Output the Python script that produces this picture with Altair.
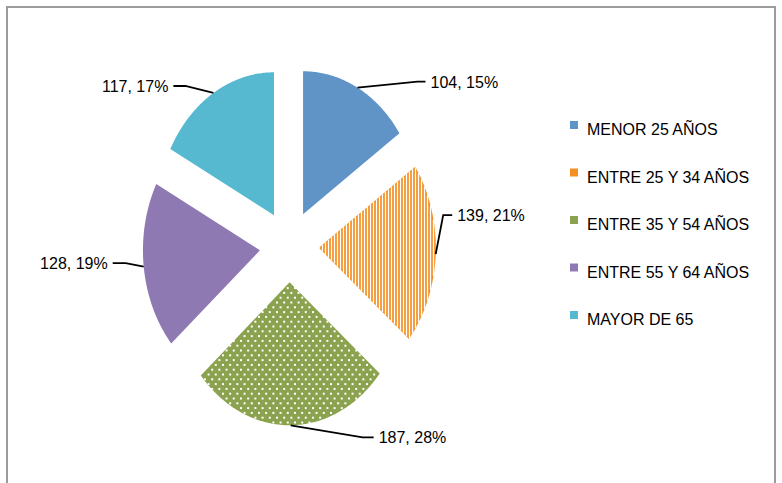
import numpy as np
import pandas as pd
import altair as alt

# ---------------- data ----------------
categories = ["MENOR 25 AÑOS", "ENTRE 25 Y 34 AÑOS", "ENTRE 35 Y 54 AÑOS",
              "ENTRE 55 Y 64 AÑOS", "MAYOR DE 65"]
values = [104, 139, 187, 128, 117]
colors = ["#6094C7", "#F39021", "#8BA24E", "#8E79B3", "#57B9D0"]

# ---------------- layout ----------------
W, H = 782, 483
CX, CY = 289.3, 246.2          # pie centre (px)
RX, RY = 117.0, 143.0          # pie radii (px) - the picture is horizontally squeezed
EXPLODE = 0.2525               # explosion as a fraction of the radius
label_elbow_dx = [60, 7.5, 72, -18, -28]
label_elbow_dy = [-6, -39, 12, -3.5, -7]
label_seg = [8, 9, 11, -13, -12]
TEXT_GAP = 5
FONT = "Liberation Sans, Arial, sans-serif"
STRIPE_SLICE, DOT_SLICE = 1, 2


def px_to_u(x):
    return (x - CX) / RX


def py_to_v(y):
    return (CY - y) / RY


total = sum(values)
pcts = [round(100 * v / total) for v in values]
labels = [f"{v}, {p}%" for v, p in zip(values, pcts)]
bounds = np.cumsum([0] + values) / total * 2 * np.pi

poly_rows, lead_rows, text_rows, sectors = [], [], [], []
for i, cat in enumerate(categories):
    a0, a1 = bounds[i], bounds[i + 1]
    mid = (a0 + a1) / 2
    au, av = EXPLODE * np.sin(mid), EXPLODE * np.cos(mid)
    sectors.append((a0, a1, au, av))
    pts = [(au, av)] + [(au + np.sin(t), av + np.cos(t)) for t in np.linspace(a0, a1, 90)] + [(au, av)]
    for k, (u, v) in enumerate(pts):
        poly_rows.append(dict(cat=cat, k=k, u=u, v=v))
    # leader line: arc midpoint -> elbow -> end
    ax_, ay_ = au + np.sin(mid), av + np.cos(mid)
    ex_, ey_ = ax_ + label_elbow_dx[i] / RX, ay_ - label_elbow_dy[i] / RY
    fx_, fy_ = ex_ + label_seg[i] / RX, ey_
    for k, (u, v) in enumerate([(ax_, ay_), (ex_, ey_), (fx_, fy_)]):
        lead_rows.append(dict(cat=cat, k=k, u=u, v=v))
    side = "right" if label_seg[i] > 0 else "left"
    tu = fx_ + (TEXT_GAP if side == "right" else -TEXT_GAP) / RX
    text_rows.append(dict(cat=cat, u=tu, v=fy_, label=labels[i], side=side))


def inside(i, u, v):
    a0, a1, au, av = sectors[i]
    du, dv = u - au, v - av
    r = np.hypot(du, dv)
    ang = np.mod(np.arctan2(du, dv), 2 * np.pi)
    return (r <= 1.0) & (ang >= a0) & (ang <= a1)


# vertical white gaps of the striped slice
a0, a1, au, av = sectors[STRIPE_SLICE]
stripe_rows = []
vs = np.linspace(av - 1.05, av + 1.05, 3000)
x_start = np.floor(CX + au * RX) + 1.5
x_end = CX + (au + 1.0) * RX
for x in np.arange(x_start, x_end, 3.0):
    u = px_to_u(x)
    m = inside(STRIPE_SLICE, np.full_like(vs, u), vs)
    if m.any():
        stripe_rows.append(dict(u=u, v1=vs[m].min(), v2=vs[m].max()))

# white dots of the dotted slice
a0, a1, au, av = sectors[DOT_SLICE]
dot_rows = []
apx, apy = CX + au * RX, CY - av * RY
for j, y in enumerate(np.arange(apy + 1, apy + RY + 5, 4.8)):
    off = 3.6 if j % 2 else 0.0
    for x in np.arange(apx - RX - 10.8 + off, apx + RX + 10, 7.2):
        u, v = px_to_u(x), py_to_v(y)
        if inside(DOT_SLICE, np.array([u]), np.array([v]))[0]:
            dot_rows.append(dict(u=u, v=v))

poly = pd.DataFrame(poly_rows)
lead = pd.DataFrame(lead_rows)
texts = pd.DataFrame(text_rows)
stripes = pd.DataFrame(stripe_rows)
dots = pd.DataFrame(dot_rows)

xs = alt.Scale(domain=[px_to_u(0), px_to_u(W)], nice=False, zero=False)
ys = alt.Scale(domain=[py_to_v(H), py_to_v(0)], nice=False, zero=False)
X = alt.X("u:Q", scale=xs, axis=None)
Y = alt.Y("v:Q", scale=ys, axis=None)

border = alt.Chart(pd.DataFrame({"a": [0]})).mark_rect(
    fill=None, stroke="#9C9C9C", strokeWidth=2
).encode(x=alt.value(7), x2=alt.value(775), y=alt.value(7), y2=alt.value(500))

slices = alt.Chart(poly).mark_line(filled=True, strokeWidth=0).encode(
    x=X, y=Y, order="k:Q",
    color=alt.Color(
        "cat:N",
        scale=alt.Scale(domain=categories, range=colors),
        legend=alt.Legend(
            title=None, orient="none", legendX=566, legendY=122,
            symbolType="M-1,-2.25L1,-2.25L1,-0.25L-1,-0.25Z",
            symbolSize=64, symbolStrokeWidth=0, symbolOpacity=1,
            labelFont=FONT, labelFontSize=16, labelColor="#000000",
            labelOffset=5, rowPadding=30.5, labelLimit=300,
        ),
    ),
)

stripe_layer = alt.Chart(stripes).mark_rule(color="white", strokeWidth=1.3).encode(
    x=alt.X("u:Q", scale=xs, axis=None), y=alt.Y("v1:Q", scale=ys, axis=None), y2="v2:Q"
)

dot_layer = alt.Chart(dots).mark_square(color="white", size=4, opacity=1).encode(x=X, y=Y)

leaders = alt.Chart(lead).mark_line(color="black", strokeWidth=1.8).encode(
    x=X, y=Y, detail="cat:N", order="k:Q"
)

text_right = alt.Chart(texts).transform_filter(alt.datum.side == "right").mark_text(
    align="left", baseline="middle", dy=1, font=FONT, fontSize=16, color="black"
).encode(x=X, y=Y, text="label:N")

text_left = alt.Chart(texts).transform_filter(alt.datum.side == "left").mark_text(
    align="right", baseline="middle", dy=1, font=FONT, fontSize=16, color="black"
).encode(x=X, y=Y, text="label:N")

chart = alt.layer(
    border, slices, stripe_layer, dot_layer, leaders, text_right, text_left
).properties(
    width=W, height=H, padding=0,
    autosize=alt.AutoSizeParams(type="none"),
    background="white",
).configure_view(stroke=None)

chart.save("out.html", embed_options={"renderer": "svg", "actions": False})
